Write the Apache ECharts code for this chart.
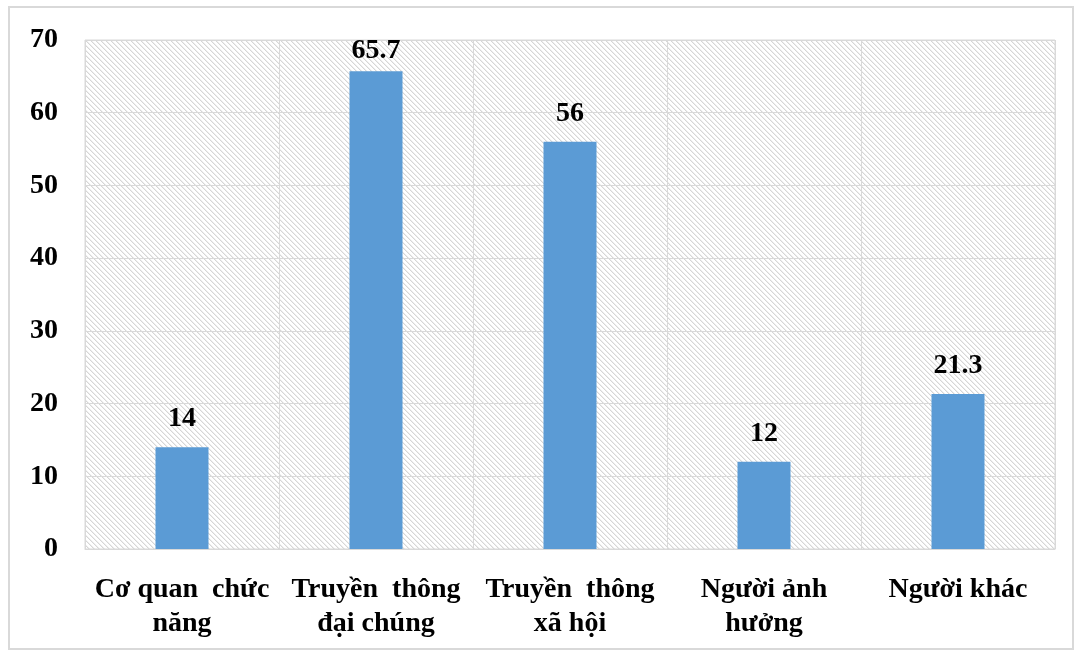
<!DOCTYPE html>
<html>
<head>
<meta charset="utf-8">
<script src="https://cdn.jsdelivr.net/npm/echarts@6/dist/echarts.min.js"></script>
<style>
  html, body { margin: 0; padding: 0; background: #fff; }
  #chart { width: 1082px; height: 653px; }
</style>
</head>
<body>
<div id="chart"></div>
<script>
// Nguồn thông tin (%)
const categories = [
  'Cơ quan  chức\nnăng',
  'Truyền  thông\nđại chúng',
  'Truyền  thông\nxã hội',
  'Người ảnh\nhưởng',
  'Người khác'
];
const values = [14, 65.7, 56, 12, 21.3];
const yTicks = [0, 10, 20, 30, 40, 50, 60, 70];

// Diagonal hatch tile for the plot background
function hatchTile() {
  const n = 5;
  const c = document.createElement('canvas');
  c.width = n; c.height = n;
  const ctx = c.getContext('2d');
  ctx.fillStyle = '#ffffff';
  ctx.fillRect(0, 0, n, n);
  for (let i = 0; i < n; i++) {
    ctx.fillStyle = '#d6d6d6';
    ctx.fillRect(i, i, 1, 1);
    ctx.fillStyle = '#eeeeee';
    ctx.fillRect((i + 1) % n, i, 1, 1);
  }
  return c;
}

const yMax = yTicks[yTicks.length - 1];
const serif = '"Liberation Serif", "Times New Roman", serif';
const chart = echarts.init(document.getElementById('chart'));
chart.setOption({
  animation: false,
  backgroundColor: '#ffffff',
  grid: {
    left: 85, right: 27, top: 40, bottom: 104,
    show: true,
    backgroundColor: { image: hatchTile(), repeat: 'repeat' },
    borderColor: '#d9d9d9',
    borderWidth: 1
  },
  graphic: [{
    type: 'rect',
    shape: { x: 9, y: 7, width: 1064, height: 642 },
    style: { fill: 'none', stroke: '#d9d9d9', lineWidth: 2 },
    silent: true
  }],
  xAxis: {
    type: 'category',
    data: categories,
    axisLine: { show: true, lineStyle: { color: '#d9d9d9' } },
    axisTick: { show: false },
    splitLine: { show: true, interval: 0, lineStyle: { color: '#d9d9d9', width: 1 } },
    axisLabel: {
      interval: 0,
      margin: 24,
      color: '#000',
      fontFamily: serif,
      fontWeight: 'bold',
      fontSize: 28,
      lineHeight: 34
    }
  },
  yAxis: {
    type: 'value',
    min: yTicks[0],
    max: yMax,
    interval: 10,
    axisLine: { show: false },
    axisTick: { show: false },
    splitLine: { show: true, lineStyle: { color: '#d9d9d9', width: 1 } },
    axisLabel: {
      margin: 27,
      color: '#000',
      fontFamily: serif,
      fontWeight: 'bold',
      fontSize: 28
    }
  },
  series: [{
    type: 'bar',
    // labels of bars close to the top of the plot sit tighter to the bar
    data: values.map(v => ({ value: v, label: { distance: v > yMax - 8 ? 7 : 14 } })),
    barWidth: 53,
    itemStyle: { color: '#5b9bd5' },
    label: {
      show: true,
      position: 'top',
      color: '#000',
      fontFamily: serif,
      fontWeight: 'bold',
      fontSize: 28
    }
  }]
});
</script>
</body>
</html>
